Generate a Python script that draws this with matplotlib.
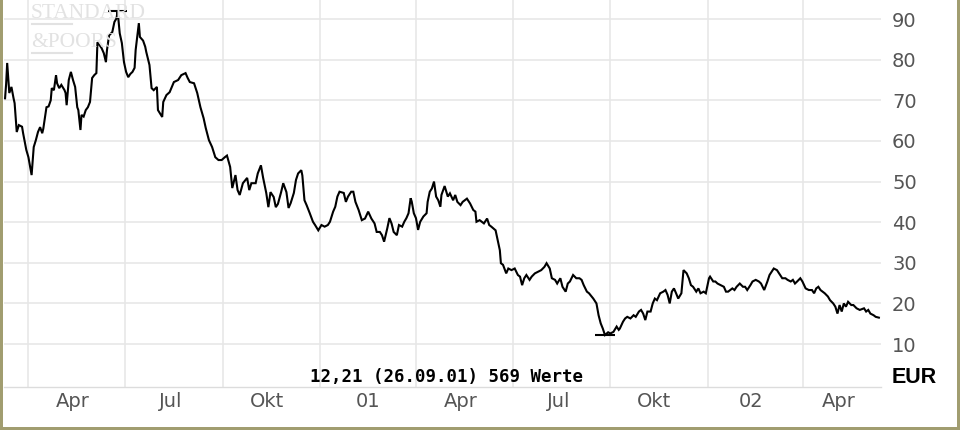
import matplotlib
matplotlib.use('Agg')
import matplotlib.pyplot as plt
import matplotlib.dates as mdates
from matplotlib.lines import Line2D
from matplotlib.patches import Rectangle
import pandas as pd

# ---------------- data ----------------
start_date = '2000-03-10'
day_offsets = [
    0, 1, 2, 4, 6, 8, 9, 11, 13, 16, 17, 20, 22, 25, 27, 29, 31, 33, 35, 36,
    39, 41, 43, 44, 46, 48, 49, 51, 53, 56, 57, 58, 60, 62, 64, 66, 68, 69, 71, 72,
    74, 76, 78, 80, 82, 84, 86, 87, 89, 91, 93, 95, 96, 98, 101, 103, 105, 106, 108, 110,
    112, 114, 116, 118, 120, 122, 123, 126, 127, 130, 132, 133, 136, 138, 140, 143, 144, 148, 149, 152,
    155, 159, 163, 166, 170, 172, 174, 178, 181, 184, 187, 189, 192, 195, 198, 201, 204, 207, 209, 212,
    214, 217, 219, 221, 224, 228, 230, 232, 236, 238, 241, 243, 246, 248, 250, 253, 255, 257, 260, 262,
    265, 267, 269, 272, 274, 276, 279, 280, 282, 284, 287, 290, 292, 295, 298, 301, 304, 306, 309, 311,
    313, 315, 319, 321, 323, 326, 328, 330, 333, 336, 339, 342, 345, 348, 350, 353, 355, 357, 360, 362,
    364, 366, 369, 371, 374, 376, 378, 380, 382, 383, 385, 387, 389, 391, 394, 397, 398, 400, 402, 404,
    406, 408, 410, 411, 414, 417, 419, 422, 424, 426, 429, 431, 433, 435, 438, 441, 443, 444, 447, 451,
    454, 456, 458, 462, 464, 466, 467, 469, 472, 474, 477, 480, 483, 485, 487, 489, 491, 494, 496, 499,
    502, 505, 508, 510, 513, 515, 518, 520, 523, 525, 528, 530, 532, 535, 538, 541, 543, 545, 548, 550,
    554, 557, 559, 561, 563, 565, 568, 570, 573, 576, 578, 579, 582, 584, 586, 589, 592, 594, 597, 599,
    601, 603, 605, 608, 610, 612, 614, 617, 620, 622, 624, 626, 628, 630, 632, 634, 637, 639, 642, 644,
    646, 648, 651, 653, 655, 658, 660, 663, 664, 667, 669, 671, 674, 677, 679, 681, 685, 687, 689, 692,
    695, 697, 699, 702, 704, 707, 710, 712, 715, 718, 720, 722, 724, 727, 729, 732, 735, 737, 740, 742,
    744, 746, 749, 751, 754, 757, 760, 762, 764, 766, 768, 770, 772, 775, 777, 780, 782, 784, 786, 788,
    790, 792, 794, 797, 799, 802, 805, 807, 809, 811, 813, 815, 818, 820, 823,
]
prices = [
    70.5, 74.0, 79.2, 71.8, 73.3, 70.5, 69.3, 62.2, 63.9, 63.5, 61.9, 57.8, 56.0, 51.6, 58.5, 60.2, 62.2, 63.4, 61.9, 63.0,
    68.3, 68.5, 70.0, 73.0, 72.5, 76.2, 74.2, 73.0, 73.8, 72.5, 71.8, 68.8, 75.0, 77.0, 75.0, 73.3, 68.3, 67.6, 62.7, 66.4,
    66.0, 67.6, 68.3, 69.6, 75.5, 76.2, 76.7, 84.3, 83.6, 82.8, 81.6, 79.4, 82.4, 86.0, 86.8, 89.3, 90.2, 92.0, 86.5, 84.1,
    79.4, 77.0, 75.7, 76.5, 77.0, 78.0, 82.4, 89.0, 85.6, 84.7, 83.2, 81.9, 78.7, 73.0, 72.5, 73.3, 67.6, 65.9, 69.6, 71.3,
    72.0, 74.5, 75.0, 76.2, 76.7, 75.5, 74.5, 74.2, 71.8, 68.3, 65.6, 63.2, 60.2, 58.5, 56.0, 55.3, 55.3, 56.0, 56.4, 53.6,
    48.4, 51.6, 47.9, 46.7, 49.6, 50.9, 47.9, 49.6, 49.6, 52.0, 54.0, 51.0, 47.2, 43.7, 47.4, 46.2, 43.7, 44.5, 47.4, 49.6,
    47.4, 43.5, 44.7, 47.2, 50.4, 52.0, 52.8, 51.5, 45.4, 44.2, 42.2, 40.1, 39.3, 38.0, 39.3, 38.9, 39.3, 40.1, 42.6, 43.8,
    46.3, 47.5, 47.2, 45.0, 46.3, 47.5, 47.5, 45.0, 43.0, 40.5, 40.9, 42.6, 40.9, 39.7, 37.6, 37.6, 36.8, 35.2, 38.5, 41.0,
    39.7, 37.6, 36.8, 39.3, 38.9, 40.1, 41.0, 42.2, 45.9, 45.1, 42.2, 41.0, 38.1, 40.1, 41.4, 42.2, 45.0, 47.5, 48.3, 50.0,
    46.3, 45.4, 43.8, 46.7, 48.9, 46.3, 47.1, 45.4, 46.7, 45.0, 44.2, 45.0, 45.4, 45.8, 44.6, 43.0, 42.6, 40.1, 40.5, 39.7,
    40.9, 39.3, 38.9, 38.0, 35.6, 33.1, 29.9, 29.5, 27.4, 28.6, 28.2, 28.6, 27.0, 26.6, 24.5, 26.2, 27.0, 25.8, 26.6, 27.4,
    27.8, 28.2, 29.0, 29.9, 28.6, 26.2, 25.8, 24.9, 26.2, 24.1, 22.9, 24.9, 25.4, 27.0, 26.2, 26.2, 25.8, 24.5, 22.9, 22.5,
    21.2, 20.0, 17.1, 15.1, 13.8, 12.21, 12.9, 12.6, 13.0, 14.3, 13.5, 13.8, 15.5, 16.3, 16.7, 16.3, 17.1, 16.7, 18.0, 18.4,
    17.5, 15.9, 18.0, 18.0, 20.0, 21.2, 20.8, 22.5, 22.9, 23.3, 22.1, 20.0, 22.9, 23.7, 22.5, 21.2, 22.5, 28.2, 27.4, 26.2,
    24.5, 24.1, 22.9, 23.7, 22.5, 22.9, 22.5, 26.2, 26.6, 25.4, 25.4, 24.9, 24.5, 24.1, 22.9, 22.9, 23.7, 23.3, 24.1, 24.9,
    24.1, 24.1, 23.3, 24.5, 25.4, 25.8, 25.4, 24.9, 23.3, 25.4, 27.0, 27.8, 28.6, 28.2, 27.4, 26.2, 26.2, 25.8, 25.4, 25.8,
    24.9, 25.4, 26.2, 25.4, 23.7, 23.3, 23.3, 22.5, 23.7, 24.1, 23.3, 22.9, 22.5, 21.7, 20.8, 20.0, 19.2, 17.5, 19.6, 18.0,
    20.0, 19.2, 20.4, 19.6, 19.6, 18.8, 18.4, 18.6, 18.8, 18.0, 18.4, 17.5, 17.1, 16.7, 16.5,
]
y_ticks = [10, 20, 30, 40, 50, 60, 70, 80, 90]
quarter_starts = ['2000-04-01', '2000-07-01', '2000-10-01', '2001-01-01', '2001-04-01',
                  '2001-07-01', '2001-10-01', '2002-01-01', '2002-04-01']
month_labels = ['Apr', 'Jul', 'Okt', '01', 'Apr', 'Jul', 'Okt', '02', 'Apr']
label_dates = ['2000-05-13', '2000-08-13', '2000-11-12', '2001-02-15', '2001-05-13',
               '2001-08-13', '2001-11-11', '2002-02-11', '2002-05-04']
info_text = '12,21 (26.09.01) 569 Werte'
currency = 'EUR'

# ---------------- figure ----------------
W, H = 960, 430
fig = plt.figure(figsize=(W / 100, H / 100), dpi=100)
fig.patch.set_facecolor('white')

ax_left, ax_right, ax_top, ax_bottom = 4, 881, 0, 386.7
ax = fig.add_axes([ax_left / W, 1 - ax_bottom / H, (ax_right - ax_left) / W, (ax_bottom - ax_top) / H])
ax.set_facecolor('white')

start = pd.Timestamp(start_date)
dates = start + pd.to_timedelta(day_offsets, unit='D')

ax.plot(dates, prices, color='black', lw=1.5, zorder=3, solid_joinstyle='miter')

# high / low markers
i_hi = max(range(len(prices)), key=lambda i: prices[i])
i_lo = min(range(len(prices)), key=lambda i: prices[i])
half = pd.Timedelta(days=9)
for i in (i_hi, i_lo):
    ax.hlines(prices[i], dates[i] - half, dates[i] + half, color='black', lw=1.5, zorder=4)

ax.set_xlim(start - pd.Timedelta(days=1), start + pd.Timedelta(days=825))
ax.set_ylim(-0.5, 94.7)

# grid
ax.set_xticks(pd.to_datetime(quarter_starts))
ax.set_xticklabels([])
ax.set_xticks(pd.to_datetime(label_dates), minor=True)
ax.set_xticklabels(month_labels, minor=True)
ax.set_yticks(y_ticks)
ax.yaxis.tick_right()
ax.grid(True, which='major', color='#e6e6e6', lw=1.1, zorder=0)
ax.set_axisbelow(True)

ax.tick_params(axis='x', which='both', length=0, pad=4, labelsize=14, labelcolor='#555555')
ax.tick_params(axis='y', which='both', length=0, pad=8, labelsize=14, labelcolor='#555555')
for lbl in ax.get_yticklabels():
    lbl.set_horizontalalignment('left')

for s in ('top', 'left', 'right'):
    ax.spines[s].set_visible(False)
ax.spines['bottom'].set_color('#dcdcdc')
ax.spines['bottom'].set_linewidth(1.0)

# watermark
wm_color = '#e2e2e2'
fig.text(31 / W, 1 - 18 / H, 'STANDARD', family='Liberation Serif', fontsize=15.5,
         color=wm_color, ha='left', va='baseline', zorder=1)
fig.text(31 / W, 1 - 47 / H, '&POORS', family='Liberation Serif', fontsize=15.5,
         color=wm_color, ha='left', va='baseline', zorder=1)
fig.add_artist(Line2D([32 / W, 72 / W], [1 - 24 / H, 1 - 24 / H], color=wm_color, lw=1.5, zorder=1))
fig.add_artist(Line2D([32 / W, 72 / W], [1 - 53 / H, 1 - 53 / H], color=wm_color, lw=1.5, zorder=1))

# info text and currency
fig.text(446 / W, 1 - 382 / H, info_text, family='DejaVu Sans Mono', fontweight='bold',
         fontsize=12.5, color='black', ha='center', va='baseline', zorder=5)
fig.text(892 / W, 1 - 383 / H, currency, family='Liberation Sans', fontweight='bold',
         fontsize=15.5, color='black', ha='left', va='baseline')

# frame
frame_color = '#a19d70'
fig.add_artist(Rectangle((0, 0), 3 / W, 1, transform=fig.transFigure, color=frame_color, lw=0))
fig.add_artist(Rectangle((957 / W, 0), 3 / W, 1, transform=fig.transFigure, color=frame_color, lw=0))
fig.add_artist(Rectangle((0, 0), 1, 3 / H, transform=fig.transFigure, color=frame_color, lw=0))

fig.savefig('out.png', dpi=100, facecolor='white')
